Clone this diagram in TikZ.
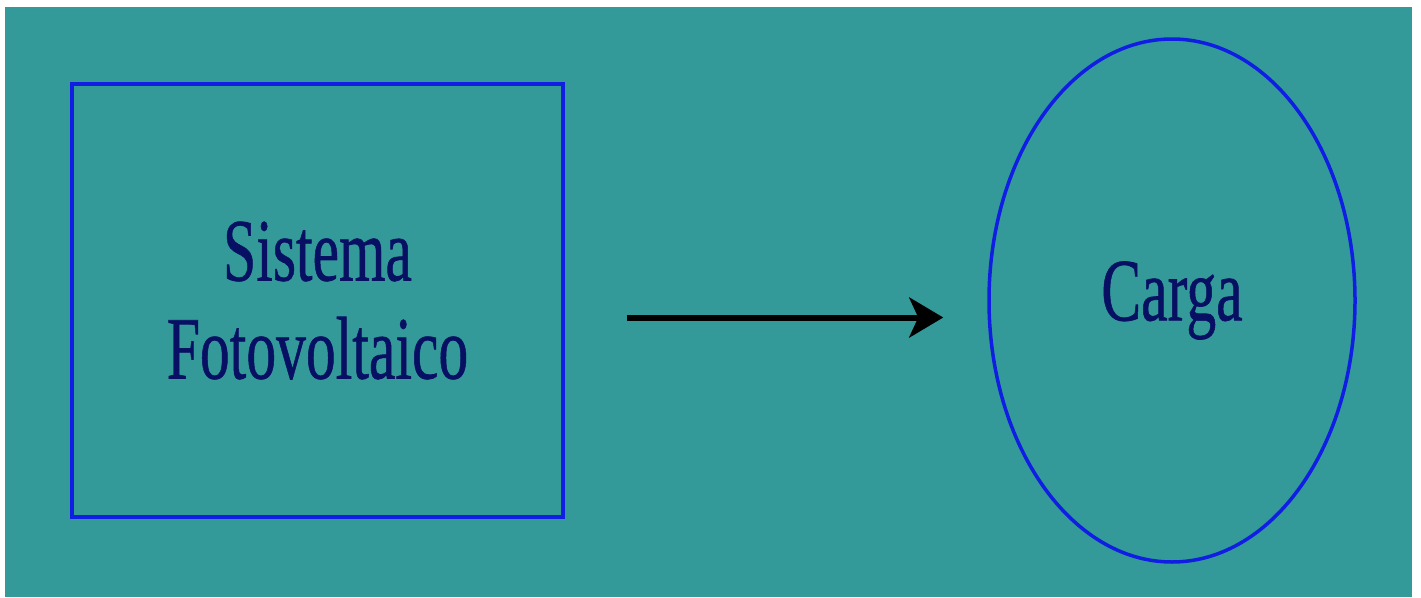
\documentclass[tikz,border=0pt]{standalone}
\usepackage{fontspec}
\usepackage{graphicx}
\setmainfont{Liberation Serif}
% regular serif, slightly thickened for the labels
\newfontfamily\labelface{Liberation Serif}[BoldFont={Liberation Serif}, BoldFeatures={FakeBold=0.8}]
\usetikzlibrary{shapes.geometric,arrows.meta}

\definecolor{panel}{RGB}{51,153,153}
\definecolor{edgeblue}{RGB}{16,30,228}
\definecolor{labelnavy}{RGB}{8,16,100}

% condensed lettering
\newcommand\narrowtext[1]{\scalebox{0.67}[1]{#1}}

\tikzset{
  label font/.style={font=\labelface\bfseries\fontsize{89}{98}\selectfont, text=labelnavy},
  blockbox/.style={draw=edgeblue, line width=3.5pt, rectangle,
    minimum width=491pt, minimum height=433pt, inner sep=0pt,
    align=center, label font},
  loadshape/.style={draw=edgeblue, line width=3.5pt, ellipse,
    minimum width=366pt, minimum height=523pt, inner sep=0pt,
    label font},
  flow/.style={draw=black, line width=6pt,
    -{Stealth[length=34pt, width=40pt, inset=9pt]}},
}

\begin{document}
\begin{tikzpicture}[x=1pt, y=-1pt]
  \useasboundingbox (0,0) rectangle (1421,597);
  \fill[white] (0,0) rectangle (1421,597);
  \fill[panel] (5,7) rectangle (1412,597);

  \node[blockbox] (sys) at (317.5,300.5)
    {\narrowtext{Sistema}\\\narrowtext{Fotovoltaico}};
  \node[loadshape] (load) at (1172,300.5) {\narrowtext{Carga}};

  \draw[flow] ([xshift=62pt, yshift=-17pt]sys.east)
           -- ([xshift=-44pt, yshift=-17pt]load.west);
\end{tikzpicture}
\end{document}
